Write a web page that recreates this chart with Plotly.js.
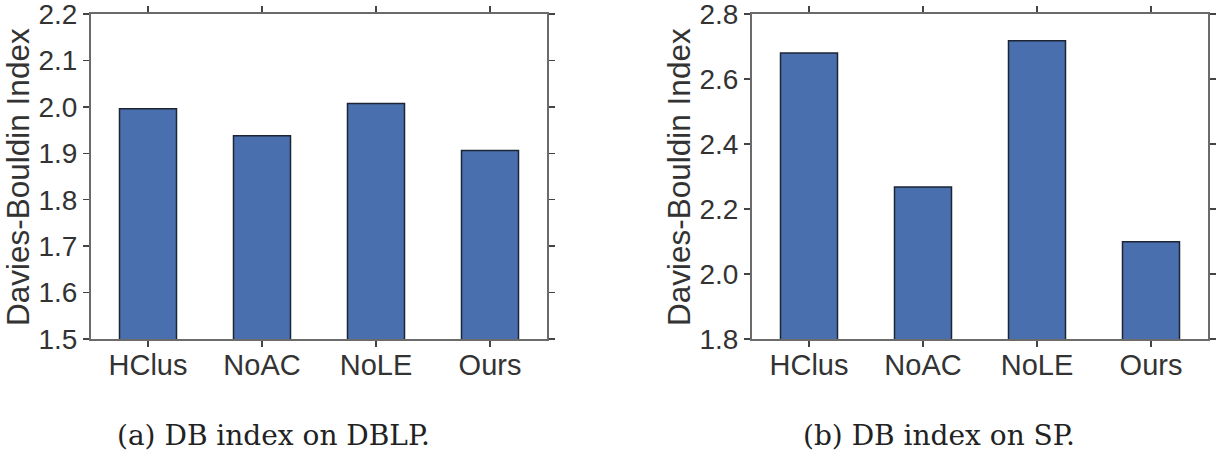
<!DOCTYPE html>
<html>
<head>
<meta charset="utf-8">
<script src="https://cdn.plot.ly/plotly-3.0.1.min.js"></script>
<style>
html,body{margin:0;padding:0;background:#fff;}
#chart{width:1224px;height:458px;}
</style>
</head>
<body>
<div id="chart"></div>
<script>
// Categories and values
const methods = ["HClus", "NoAC", "NoLE", "Ours"];
const dblpValues = [1.996, 1.938, 2.007, 1.906];
const spValues = [2.680, 2.268, 2.718, 2.099];
const dblpTicks = [1.5, 1.6, 1.7, 1.8, 1.9, 2.0, 2.1, 2.2];
const spTicks = [1.8, 2.0, 2.2, 2.4, 2.6, 2.8];
const yTitle = "Davies-Bouldin Index";
const captions = ["(a) DB index on DBLP.", "(b) DB index on SP."];

const W = 1224, H = 458;
const barColor = "#4a6fae";
const edgeColor = "#1c2533";
const axisColor = "#6b6b6b";
const textColor = "#333333";
const sans = "Liberation Sans, Arial, sans-serif";

const barTrace = (vals, xa, ya) => ({
  type: "bar", x: methods, y: vals, xaxis: xa, yaxis: ya,
  width: 0.5,
  marker: {color: barColor, line: {color: edgeColor, width: 1.5}},
  hoverinfo: "skip", showlegend: false
});

const xAxisBase = (dom) => ({
  domain: dom, type: "category", range: [-0.5, 3.5],
  showline: true, linecolor: axisColor, linewidth: 2, mirror: "ticks",
  ticks: "outside", ticklen: 6, tickwidth: 1.5, tickcolor: "#444",
  showgrid: false, zeroline: false, fixedrange: true,
  ticklabeloverflow: "allow", ticklabelstandoff: -7,
  tickfont: {family: sans, size: 29, color: textColor}
});
const yAxisBase = (anchor, rng, ticks) => ({
  anchor: anchor, domain: [(H - 339) / H, (H - 14) / H],
  range: rng, tickvals: ticks, tickformat: ".1f",
  showline: true, linecolor: axisColor, linewidth: 2, mirror: "ticks",
  ticks: "outside", ticklen: 6, tickwidth: 1.5, tickcolor: "#444",
  showgrid: false, zeroline: false, fixedrange: true,
  ticklabeloverflow: "allow",
  tickfont: {family: sans, size: 28, color: textColor}
});

const data = [
  barTrace(dblpValues, "x", "y"),
  barTrace(spValues, "x2", "y2")
];

const capFont = {family: "DejaVu Serif, Liberation Serif, serif", size: 28, color: "#222"};
const titleFont = {family: sans, size: 31.5, color: textColor};
const plotMidY = 1 - 177 / H;

const layout = {
  width: W, height: H,
  margin: {l: 0, r: 0, t: 0, b: 0},
  paper_bgcolor: "#fff", plot_bgcolor: "#fff",
  xaxis: Object.assign(xAxisBase([91 / W, 547 / W]), {anchor: "y"}),
  yaxis: yAxisBase("x", [1.5, 2.2], dblpTicks),
  xaxis2: Object.assign(xAxisBase([752 / W, 1208 / W]), {anchor: "y2"}),
  yaxis2: yAxisBase("x2", [1.8, 2.8], spTicks),
  annotations: [
    {text: yTitle, xref: "paper", yref: "paper", x: 18 / W, y: plotMidY, textangle: -90,
     xanchor: "center", yanchor: "middle", showarrow: false, font: titleFont},
    {text: yTitle, xref: "paper", yref: "paper", x: 679 / W, y: plotMidY, textangle: -90,
     xanchor: "center", yanchor: "middle", showarrow: false, font: titleFont},
    {text: captions[0], xref: "paper", yref: "paper", x: 273 / W, y: 1 - 435 / H,
     xanchor: "center", yanchor: "middle", showarrow: false, font: capFont},
    {text: captions[1], xref: "paper", yref: "paper", x: 939 / W, y: 1 - 435 / H,
     xanchor: "center", yanchor: "middle", showarrow: false, font: capFont}
  ]
};

Plotly.newPlot("chart", data, layout, {displayModeBar: false, staticPlot: true});
</script>
</body>
</html>
